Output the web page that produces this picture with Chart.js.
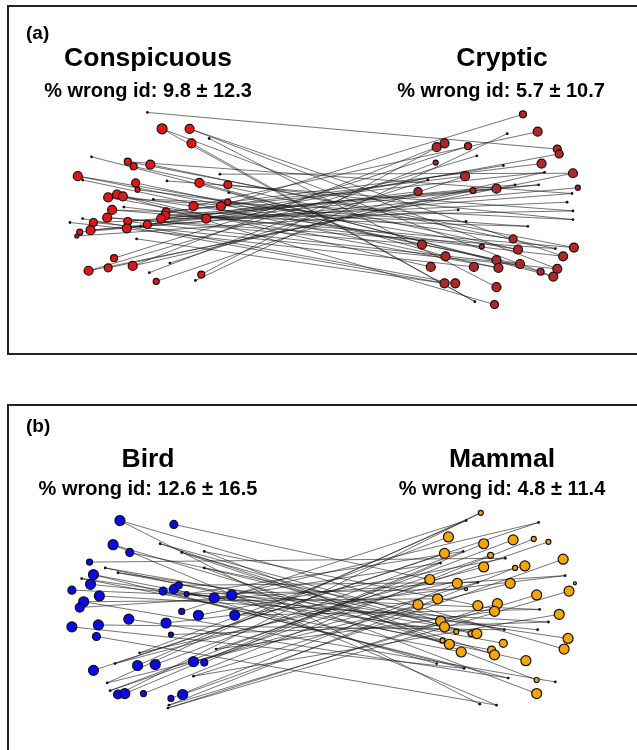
<!DOCTYPE html>
<html>
<head>
<meta charset="utf-8">
<script src="https://cdn.jsdelivr.net/npm/chart.js@4.4.1/dist/chart.umd.min.js"></script>
<style>
  html, body { margin: 0; padding: 0; background: #fff; overflow: hidden; }
  body { width: 637px; height: 750px; position: relative; font-family: "Liberation Sans", Arial, sans-serif; }
  .box { position: absolute; border: 2px solid #222; box-sizing: border-box; }
  canvas { position: absolute; left: 0; }
  .lbl { position: absolute; font-weight: bold; line-height: 1; white-space: nowrap; color: #000; }
  .c { transform: translateX(-50%); }
  .t { font-size: 26.5px; }
  .s { font-size: 20px; }
  .p { font-size: 19px; }
</style>
</head>
<body>

<div class="box" style="left:7px; top:5px; width:650px; height:350px;"></div>
<div class="box" style="left:7px; top:404px; width:650px; height:400px;"></div>

<canvas id="chartA" width="637" height="360" style="top:0"></canvas>
<canvas id="chartB" width="637" height="370" style="top:380px"></canvas>

<div class="lbl p" style="left:26px; top:23px;">(a)</div>
<div class="lbl t c" style="left:148px; top:44px;">Conspicuous</div>
<div class="lbl s c" style="left:148px; top:80px;">% wrong id: 9.8 ± 12.3</div>
<div class="lbl t c" style="left:502px; top:44px;">Cryptic</div>
<div class="lbl s c" style="left:501px; top:80px;">% wrong id: 5.7 ± 10.7</div>

<div class="lbl p" style="left:26px; top:416px;">(b)</div>
<div class="lbl t c" style="left:148px; top:445px;">Bird</div>
<div class="lbl s c" style="left:148px; top:478px;">% wrong id: 12.6 ± 16.5</div>
<div class="lbl t c" style="left:502px; top:445px;">Mammal</div>
<div class="lbl s c" style="left:502px; top:478px;">% wrong id: 4.8 ± 11.4</div>

<script>
// panel (a) : noeuds [x, y, rayon], points de liaison [x, y]
const conspicuousNodes = [
  [159,127,5],[187,127,4.5],[189,142,4.5],[124,161,3.5],[130,166,3.5],[147,164,4.5],
  [73,176,4.5],[132,183,4],[134,190,2.5],[197,183,4.5],[226,185,4],[104,198,4.5],
  [113,195,4.5],[119,197,4.5],[108,211,4.5],[103,219,4.5],[191,207,4.5],[219,207,4.5],
  [226,203,3],[163,213,4],[162,217,4.5],[158,220,4.5],[204,220,4.5],[124,223,4],
  [123,230,4.5],[144,226,4],[89,224,4],[86,232,4.5],[75,234,3],[72,238,2],
  [110,261,3.5],[84,274,4.5],[104,271,4],[129,269,4.5],[199,278,3.5],[153,285,3]
];
const conspicuousDots = [
  [144,110],[87,156],[207,137],[78,180],[218,174],[164,181],[227,193],[146,276],
  [193,284],[65,224],[78,220],[137,228],[167,266],[133,241],[150,200],[120,208]
];
const crypticNodes = [
  [527,112,3.5],[542,130,4.5],[447,142,4.5],[439,146,4.5],[471,145,3.5],[562,148,4],
  [564,153,4],[438,162,2.5],[546,163,4.5],[468,176,4.5],[578,173,4.5],[583,188,2.5],
  [420,192,4],[476,191,3],[500,189,4.5],[517,241,4],[424,247,4.5],[485,249,2.5],
  [522,252,4.5],[579,250,4.5],[448,259,4.5],[568,259,4.5],[433,270,4.5],[477,270,4.5],
  [500,263,4.5],[502,271,4.5],[524,267,4.5],[545,275,3.5],[562,272,4.5],[558,280,4.5],
  [447,287,4.5],[458,287,4.5],[500,291,4.5],[498,309,4]
];
const crypticDots = [
  [511,132],[480,155],[507,165],[549,172],[519,185],[543,185],[577,194],[469,223],
  [578,221],[560,251],[478,306],[461,211],[532,228],[578,212],[572,203],[430,180]
];
// liaisons : [indice gauche, indice droite] (noeuds puis points)
const edgesA = [
  [36,5],[0,29],[1,21],[2,44],[38,32],[3,19],[4,18],[5,43],[37,27],[6,26],[39,25],
  [7,24],[8,15],[9,29],[10,42],[40,10],[41,47],[42,20],[11,46],[12,22],[13,17],
  [14,41],[15,16],[16,1],[17,0],[18,8],[19,37],[20,39],[21,14],[22,6],[23,38],
  [24,36],[25,12],[26,48],[27,40],[28,11],[29,45],[30,4],[31,35],[32,13],[33,3],
  [34,2],[35,9],[43,7],[44,34],[45,23],[46,30],[47,31],[48,49],[49,30],[50,42],
  [51,21],[0,44],[12,33],[14,19],[26,28],[15,43],[23,26],[1,28],[3,40],
  [6,18],[11,25],[20,46],[27,39],[31,10],[33,37],[21,47],[19,9]
];

// panel (b)
const birdNodes = [
  [116,519,5],[171,523,4],[109,544,5],[126,552,4],[85,562,3],[89,575,5],[86,585,5],
  [67,591,4],[95,597,5],[79,603,5],[75,609,4.5],[160,592,4],[171,590,4.5],[176,586,3.5],
  [184,595,2.5],[212,599,5],[230,596,5],[179,613,3],[196,617,5],[233,617,5],[67,629,5],
  [94,627,5],[125,621,5],[163,625,5],[168,637,2.5],[92,639,4],[89,674,5],[134,669,5],
  [152,668,5],[191,665,5],[202,666,3.5],[114,699,4.5],[121,698,5],[140,698,3],
  [168,703,3],[180,699,5]
];
const birdDots = [
  [179,552],[157,543],[202,551],[101,568],[114,573],[77,579],[202,568],[136,656],
  [111,667],[103,687],[106,695],[166,710],[165,713],[214,652],[191,680]
];
const mammalNodes = [
  [484,511,2.5],[451,536,5],[487,543,5],[517,539,5],[538,538,2.5],[553,541,2.5],
  [447,553,5],[494,555,3],[568,559,5],[487,567,5],[519,568,2.5],[529,566,5],
  [432,580,5],[460,584,5],[514,584,5],[469,590,1.5],[580,584,1.5],[574,592,5],
  [541,596,5],[420,606,5],[440,600,5],[481,607,5],[501,605,5],[498,613,5],
  [564,616,5],[443,623,5],[447,629,5],[459,634,2.5],[474,636,3],[480,636,5],
  [445,643,2.5],[452,647,5],[464,655,5],[507,646,4],[495,653,4],[498,658,5],
  [530,664,5],[573,641,5],[569,652,5],[541,684,2.5],[541,698,5]
];
const mammalDots = [
  [469,519],[543,521],[466,551],[509,558],[570,576],[481,583],[544,611],[553,624],
  [542,632],[508,632],[439,667],[467,672],[512,682],[560,686],[483,709],[500,710],
  [443,563]
];
const edgesB = [
  [0,55],[1,12],[2,56],[3,50],[4,44],[5,53],[6,49],[7,47],[8,48],[9,54],[10,45],
  [11,52],[12,51],[13,46],[14,43],[15,57],[16,42],[17,41],[18,44],[19,47],[20,52],
  [21,50],[22,53],[23,45],[24,48],[25,56],[26,42],[27,41],[28,43],[29,46],[30,57],
  [31,0],[32,2],[33,4],[34,13],[35,8],[36,30],[37,35],[38,39],[39,36],[40,33],
  [41,27],[42,40],[43,1],[44,6],[45,0],[46,3],[47,10],[48,17],[49,7],[50,19],
  [36,28],[37,25],[39,26],[41,32],[43,11],[44,9],[45,14],[46,5],[47,18],[48,22],
  [49,23],[50,24],[38,21],[42,29],[40,37],[0,38],[2,31],[5,34],[9,20],[14,15]
];

const NODE_BORDER = "#111";
const EDGE_COLOR = "rgba(25,25,25,0.8)";

function toPoint(p) {
  return { x: p[0], y: p[1] };
}

// construit les datasets : noeuds au-dessus, liaisons dessous
function buildDatasets(leftNodes, leftDots, rightNodes, rightDots, edges, leftColor, rightColor) {
  const leftAll = leftNodes.concat(leftDots);
  const rightAll = rightNodes.concat(rightDots);
  const datasets = [];

  datasets.push({
    type: "bubble",
    data: leftNodes.map(n => ({ x: n[0], y: n[1], r: n[2] })),
    backgroundColor: leftColor,
    borderColor: NODE_BORDER,
    borderWidth: 1.2,
    order: 0
  });
  datasets.push({
    type: "bubble",
    data: rightNodes.map(n => ({ x: n[0], y: n[1], r: n[2] })),
    backgroundColor: rightColor,
    borderColor: NODE_BORDER,
    borderWidth: 1.2,
    order: 0
  });
  datasets.push({
    type: "scatter",
    data: leftDots.concat(rightDots).map(toPoint),
    pointRadius: 1.4,
    pointBorderWidth: 0,
    backgroundColor: "#111",
    order: 1
  });

  edges.forEach(e => {
    datasets.push({
      type: "scatter",
      data: [toPoint(leftAll[e[0]]), toPoint(rightAll[e[1]])],
      showLine: true,
      borderColor: EDGE_COLOR,
      borderWidth: 0.75,
      pointRadius: 0,
      order: 2
    });
  });
  return datasets;
}

function makeChart(id, datasets, yMin, yMax) {
  return new Chart(document.getElementById(id), {
    type: "scatter",
    data: { datasets },
    options: {
      responsive: false,
      animation: false,
      events: [],
      layout: { padding: 0 },
      plugins: { legend: { display: false }, tooltip: { enabled: false } },
      scales: {
        x: { type: "linear", min: 0, max: 637, display: false },
        y: { type: "linear", min: yMin, max: yMax, reverse: true, display: false }
      }
    }
  });
}

makeChart("chartA",
  buildDatasets(conspicuousNodes, conspicuousDots, crypticNodes, crypticDots, edgesA, "#e81414", "#b32626"),
  0, 360);
makeChart("chartB",
  buildDatasets(birdNodes, birdDots, mammalNodes, mammalDots, edgesB, "#0a0aee", "#f7a600"),
  380, 750);
</script>
</body>
</html>
